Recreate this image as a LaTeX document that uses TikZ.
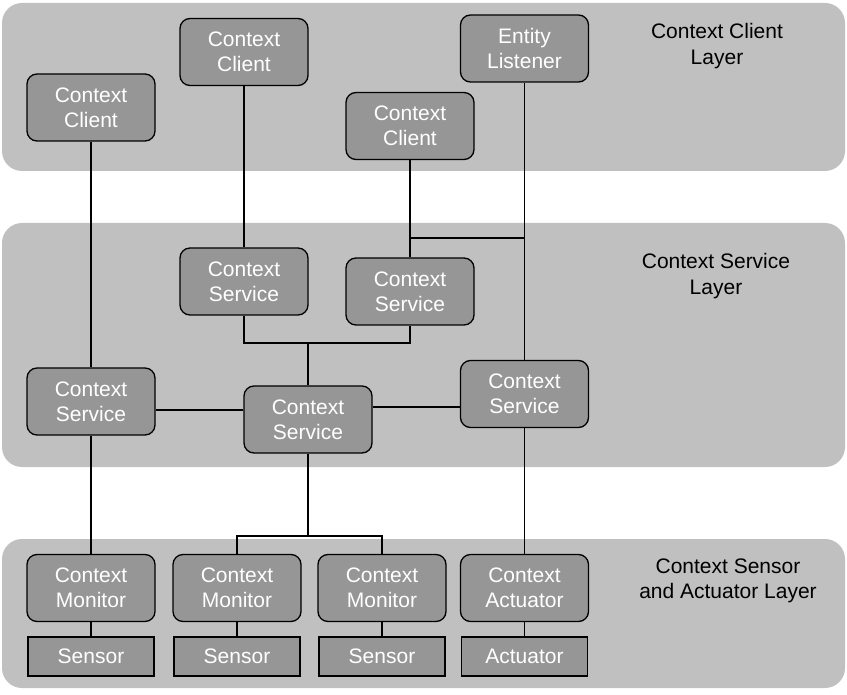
\documentclass[tikz,border=0pt]{standalone}
\usepackage{fontspec}
\setmainfont{Liberation Sans}
\usetikzlibrary{positioning}
\definecolor{layergray}{RGB}{192,192,192}
\definecolor{boxgray}{RGB}{150,150,150}
\tikzset{
  layer/.style={fill=layergray, rounded corners=20pt},
  comp/.style={draw, line width=1.3pt, fill=boxgray, rounded corners=10pt, text=white,
    align=center, minimum width=128pt, minimum height=67pt, inner sep=0pt,
    font=\fontsize{21}{25}\selectfont},
  dev/.style={draw, line width=1.3pt, fill=boxgray, text=white, align=center,
    minimum width=126pt, minimum height=39pt, inner sep=0pt,
    font=\fontsize{21}{25}\selectfont},
  layertext/.style={align=center, font=\fontsize{21}{26}\selectfont},
  wire/.style={line width=1.6pt}
}
\begin{document}
\begin{tikzpicture}[x=1pt, y=-1pt]
\useasboundingbox (0,0) rectangle (847,695);
% layers
\fill[layer] (2,3) rectangle (845,171);
\fill[layer] (2,223) rectangle (845,467);
\fill[layer] (2,539) rectangle (845,688);
\node[layertext] (lclient) at (717,46) {Context Client\\Layer};
\node[layertext] (lservice) at (716,276) {Context Service\\Layer};
\node[layertext, font=\fontsize{21}{25}\selectfont] (lsensor) at (728,581) {Context Sensor\\and Actuator Layer};
% clients
\node[comp] (cc1) at (91,107.5) {Context\\Client};
\node[comp] (cc2) at (244,52) {Context\\Client};
\node[comp] (cc3) at (410,126) {Context\\Client};
\node[comp] (el) at (524.5,48.5) {Entity\\Listener};
% services
\node[comp] (csa) at (244,281.5) {Context\\Service};
\node[comp] (csb) at (410,291.5) {Context\\Service};
\node[comp] (csl) at (91,401.5) {Context\\Service};
\node[comp] (csm) at (308,419.5) {Context\\Service};
\node[comp] (csr) at (524.5,394) {Context\\Service};
% monitors, sensors, actuator
\node[comp] (cm1) at (91,588) {Context\\Monitor};
\node[comp] (cm2) at (237,588) {Context\\Monitor};
\node[comp] (cm3) at (382,588) {Context\\Monitor};
\node[comp] (ca) at (524.5,588) {Context\\Actuator};
\node[dev] (s1) at (91,656.5) {Sensor};
\node[dev] (s2) at (237,656.5) {Sensor};
\node[dev] (s3) at (382,656.5) {Sensor};
\node[dev] (act) at (524.5,656.5) {Actuator};
% junction heights
\coordinate (jtop) at (0,238);
\coordinate (jmid) at (0,343);
\coordinate (jleft) at (0,410);
\coordinate (jright) at (0,407);
\coordinate (jlow) at (0,536);
% wires
\draw[wire] (cc1.south) -- (csl.north);
\draw[wire] (cc2.south) -- (csa.north);
\draw[wire] (cc3.south) -- (csb.north);
\draw[wire] (el.south) -- (csr.north);
\draw[wire] (cc3.south |- jtop) -- (el.south |- jtop);
\draw[wire] (csa.south) -- (csa.south |- jmid) -- (csb.south |- jmid) -- (csb.south);
\draw[wire] (csm.north |- jmid) -- (csm.north);
\draw[wire] (csl.east |- jleft) -- (csm.west |- jleft);
\draw[wire] (csm.east |- jright) -- (csr.west |- jright);
\draw[wire] (csl.south) -- (cm1.north);
\draw[wire] (csm.south) -- (csm.south |- jlow);
\draw[wire] (cm2.north) -- (cm2.north |- jlow) -- (cm3.north |- jlow) -- (cm3.north);
\draw[wire] (csr.south) -- (ca.north);
\draw[wire] (cm1.south) -- (s1.north);
\draw[wire] (cm2.south) -- (s2.north);
\draw[wire] (cm3.south) -- (s3.north);
\draw[wire] (ca.south) -- (act.north);
\end{tikzpicture}
\end{document}
